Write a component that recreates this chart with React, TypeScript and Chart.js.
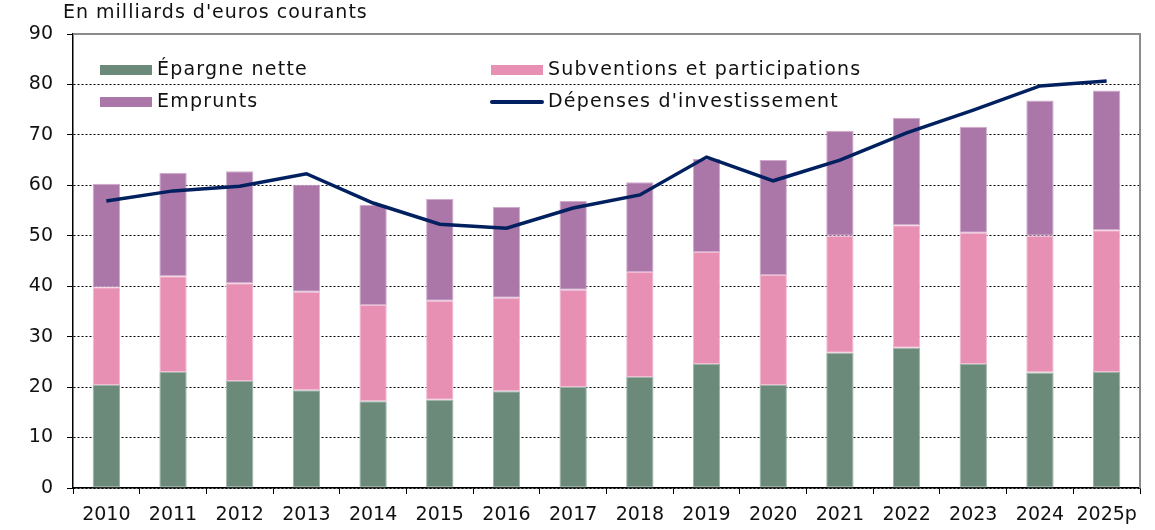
import React, { useEffect, useRef } from "react";
import { Chart, registerables } from "chart.js";

Chart.register(...registerables);

const years = ["2010", "2011", "2012", "2013", "2014", "2015", "2016", "2017", "2018", "2019", "2020", "2021", "2022", "2023", "2024", "2025p"];
const epargneNette = [20.4, 23.0, 21.2, 19.4, 17.2, 17.5, 19.2, 20.0, 22.0, 24.6, 20.4, 26.8, 27.8, 24.6, 22.9, 23.0];
const subventions = [19.4, 19.0, 19.4, 19.5, 19.1, 19.6, 18.5, 19.3, 20.8, 22.2, 21.8, 23.2, 24.3, 26.0, 27.1, 28.1];
const emprunts = [20.5, 20.5, 22.2, 21.2, 19.8, 20.2, 18.0, 17.6, 17.8, 18.4, 22.8, 20.8, 21.3, 21.0, 26.8, 27.7];
const depenses = [56.9, 58.9, 59.8, 62.3, 56.5, 52.3, 51.5, 55.5, 58.1, 65.6, 60.9, 65.0, 70.4, 74.9, 79.7, 80.7];
const yTicks = [0, 10, 20, 30, 40, 50, 60, 70, 80, 90];

const TITLE = "En milliards d'euros courants";
const LABELS = {
  epargne: "Épargne nette",
  subv: "Subventions et participations",
  emprunts: "Emprunts",
  depenses: "Dépenses d'investissement",
};

const GREEN = "#6b8a7a";
const PINK = "#e88fb4";
const PURPLE = "#ab76a8";
const NAVY = "#002060";
const FONT_FAMILY = "'DejaVu Sans', sans-serif";
const FONT_SIZE = 19;

const overlayPlugin = {
  id: "overlay",
  afterDraw(chart: any) {
    const { ctx, chartArea } = chart;
    const { left, right, top, bottom } = chartArea;
    ctx.save();
    ctx.setLineDash([]);
    ctx.strokeStyle = "#8c8c8c";
    ctx.lineWidth = 2;
    ctx.beginPath();
    ctx.moveTo(left, top);
    ctx.lineTo(right, top);
    ctx.lineTo(right, bottom);
    ctx.stroke();

    ctx.font = `${FONT_SIZE}px ${FONT_FAMILY}`;
    (ctx as any).letterSpacing = "1px";
    ctx.fillStyle = "#111";
    ctx.textBaseline = "middle";
    ctx.textAlign = "left";
    ctx.fillText(TITLE, 63, 13);

    (ctx as any).letterSpacing = "1.2px";
    const items = [
      { x: 100, y: 70, kind: "box", color: GREEN, text: LABELS.epargne },
      { x: 491, y: 70, kind: "box", color: PINK, text: LABELS.subv },
      { x: 100, y: 102, kind: "box", color: PURPLE, text: LABELS.emprunts },
      { x: 491, y: 102, kind: "line", color: NAVY, text: LABELS.depenses },
    ];
    for (const it of items) {
      if (it.kind === "box") {
        ctx.fillStyle = it.color;
        ctx.fillRect(it.x, it.y - 5, 52, 10);
      } else {
        ctx.strokeStyle = it.color;
        ctx.lineWidth = 4;
        ctx.lineCap = "round";
        ctx.beginPath();
        ctx.moveTo(it.x + 1, it.y);
        ctx.lineTo(it.x + 51, it.y);
        ctx.stroke();
      }
      ctx.fillStyle = "#111";
      ctx.fillText(it.text, it.x + 57, it.y);
    }
    (ctx as any).letterSpacing = "0px";
    ctx.restore();
  },
};

export default function App() {
  const ref = useRef<HTMLCanvasElement | null>(null);
  useEffect(() => {
    if (!ref.current) return;
    const barCommon = {
      type: "bar" as const,
      stack: "s",
      barPercentage: 0.41,
      categoryPercentage: 1,
      borderWidth: 1,
      borderSkipped: false,
      order: 1,
    };
    const chart = new Chart(ref.current, {
      type: "bar",
      data: {
        labels: years,
        datasets: [
          {
            type: "line",
            label: LABELS.depenses,
            data: depenses,
            borderColor: NAVY,
            borderWidth: 3.5,
            pointRadius: 0,
            tension: 0,
            stack: "line",
            order: 0,
          } as any,
          { ...barCommon, label: LABELS.epargne, data: epargneNette, backgroundColor: GREEN, borderColor: "#9db3a8" },
          { ...barCommon, label: LABELS.subv, data: subventions, backgroundColor: PINK, borderColor: "#f2bcd3" },
          { ...barCommon, label: LABELS.emprunts, data: emprunts, backgroundColor: PURPLE, borderColor: "#cfaccd" },
        ],
      },
      options: {
        responsive: false,
        animation: false,
        layout: { padding: { left: 0, top: 34, right: 15, bottom: 0 } },
        plugins: { legend: { display: false }, tooltip: { enabled: false }, title: { display: false } },
        scales: {
          x: {
            stacked: true,
            offset: true,
            grid: { offset: true, drawOnChartArea: false, tickLength: 6, tickColor: "#000", lineWidth: 1 },
            border: { display: true, color: "#000", width: 1.5 },
            ticks: { color: "#111", font: { family: FONT_FAMILY, size: FONT_SIZE }, padding: 10, maxRotation: 0, autoSkip: false },
            afterFit(scale: any) {
              scale.height = 42;
            },
          },
          y: {
            stacked: true,
            min: 0,
            max: 90,
            afterBuildTicks(scale: any) {
              scale.ticks = yTicks.map((v) => ({ value: v }));
            },
            grid: { color: "#000", lineWidth: 1, tickLength: 6, tickColor: "#000", drawTicks: true },
            border: { display: true, color: "#000", width: 1.5, dash: [2, 2] },
            ticks: { color: "#111", font: { family: FONT_FAMILY, size: FONT_SIZE }, padding: 14 },
            afterFit(scale: any) {
              scale.width = 73;
            },
          },
        },
      },
      plugins: [overlayPlugin],
    });
    return () => chart.destroy();
  }, []);
  return (
    <div style={{ position: "fixed", left: 0, top: 0, width: 1155, height: 530 }}>
      <canvas ref={ref} width={1155} height={530} style={{ width: 1155, height: 530 }} />
    </div>
  );
}
